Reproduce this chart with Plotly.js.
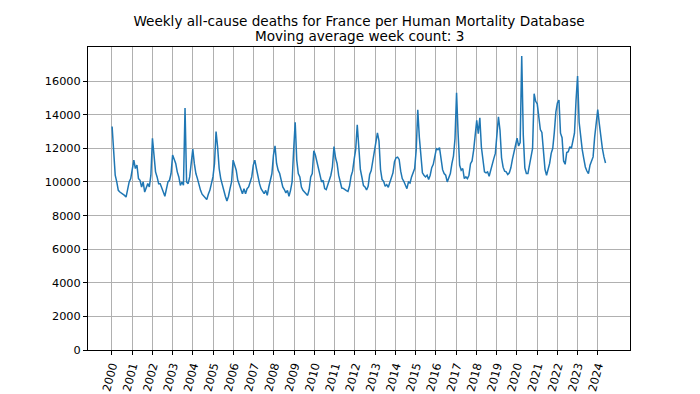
<!DOCTYPE html>
<html>
<head>
<meta charset="utf-8">
<script src="https://cdn.plot.ly/plotly-3.0.1.min.js"></script>
<style>html,body{margin:0;padding:0;background:#fff;}</style>
</head>
<body>
<div id="chart" style="width:700px;height:394px;"></div>
<script>
// Series: 3-week moving average of weekly deaths, every 4 weeks
const startDate = '2000-01-03';
const stepDays = 28;
const deaths = [
  13300, 11800, 10400, 10000, 9500, 9400, 9350, 9270, 9200, 9100, 9550, 10000, 10200,
  10900, 11300, 10800, 11000, 10200, 10100, 9700, 10000, 9400, 9600, 9900, 9700, 10400,
  12600, 11700, 10600, 10300, 9900, 9900, 9700, 9400, 9150, 9600, 10000, 10100, 10500,
  11600, 11400, 11100, 10600, 10300, 9800, 10000, 9800, 14400, 10000, 9900, 10300, 11000,
  11950, 11090, 10500, 10200, 9800, 9500, 9270, 9150, 9000, 8950, 9270, 9500, 9900,
  10300, 11100, 13000, 12080, 10800, 10200, 9800, 9500, 9150, 8870, 9150, 9600, 10000,
  11300, 11000, 10700, 10100, 9800, 9600, 9300, 9600, 9300, 9600, 9700, 10000, 10300,
  11000, 11300, 10800, 10300, 9900, 9600, 9400, 9300, 9500, 9200, 9700, 10100, 10500,
  11600, 12150, 11100, 10700, 10500, 10100, 9700, 9550, 9350, 9500, 9150, 9500, 10000,
  11900, 13550, 11300, 10500, 10300, 9700, 9500, 9400, 9300, 9200, 9550, 10300, 10500,
  11850, 11600, 11200, 10800, 10400, 10000, 10100, 9600, 9540, 9800, 10150, 10400, 10900,
  12100, 11440, 11100, 10400, 10000, 9640, 9620, 9540, 9480, 9440, 9740, 10340, 10640,
  11340, 11940, 13400, 12000, 10740, 10280, 9780, 9700, 9520, 9740, 10440, 10680, 11240,
  11880, 12600, 12920, 12440, 10740, 10140, 10040, 9740, 9840, 9680, 9940, 10240, 10540,
  11200, 11440, 11480, 11340, 10640, 10200, 10040, 9800, 9600, 10000, 9940, 10300, 10540,
  10800, 11900, 14300, 12670, 11290, 10540, 10400, 10300, 10400, 10140, 10400, 10850, 11050,
  11520, 11980, 11920, 12040, 11390, 10730, 10500, 10400, 10000, 10260, 10500, 11090, 11530,
  12570, 15300, 12870, 10990, 10700, 10800, 10200, 10300, 10200, 10400, 11090, 11250, 11880,
  12770, 13660, 12870, 13820, 12080, 11190, 10600, 10540, 10600, 10340, 10730, 11130, 11390,
  11700, 13000, 13880, 13080, 11440, 10880, 10640, 10600, 10440, 10540, 10840, 11340, 11800,
  12080, 12600, 12140, 12340, 17500, 12800, 10840, 10500, 10500, 11000, 11260, 12000, 15250,
  14800, 14650, 14000, 13120, 12950, 11850, 10750, 10400, 10700, 11100, 11700, 12000, 12950,
  14150, 14700, 14870, 12900, 12630, 11250, 11050, 11750, 11800, 12100, 12000, 12450, 12900,
  14850, 16300, 13560, 12670, 11920, 11390, 10890, 10650, 10500, 10990, 11250, 11490, 12670,
  13560, 14300, 13470, 12670, 11980, 11490, 11130
];
const yTickVals = [0, 2000, 4000, 6000, 8000, 10000, 12000, 14000, 16000];
const xTickYears = ['2000','2001','2002','2003','2004','2005','2006','2007','2008','2009','2010','2011','2012',
                    '2013','2014','2015','2016','2017','2018','2019','2020','2021','2022','2023','2024'];
const titleLine1 = 'Weekly all-cause deaths for France per Human Mortality Database';
const titleLine2 = 'Moving average week count: 3';

const t0 = Date.UTC(2000, 0, 3);
const dates = deaths.map((_, i) => new Date(t0 + i * stepDays * 86400000).toISOString().slice(0, 10));

const font = 'DejaVu Sans, sans-serif';
const trace = {
  x: dates, y: deaths, type: 'scatter', mode: 'lines',
  line: {color: '#1f77b4', width: 1.5}, hoverinfo: 'skip'
};
const layout = {
  width: 700, height: 394,
  margin: {l: 88, r: 70, t: 47, b: 44, pad: 0},
  paper_bgcolor: '#ffffff', plot_bgcolor: '#ffffff',
  showlegend: false,
  font: {family: font, color: '#000000', size: 11.3},
  title: {
    text: titleLine1,
    x: 0.5, xref: 'paper', xanchor: 'center',
    y: 1 - 21 / 394, yref: 'container', yanchor: 'middle',
    font: {family: font, size: 13.6, color: '#000000'}
  },
  annotations: [{
    text: titleLine2, showarrow: false,
    x: 0.5, xref: 'paper', xanchor: 'center',
    y: 1 + (47 - 36.5) / 303, yref: 'paper', yanchor: 'middle',
    font: {family: font, size: 13.6, color: '#000000'}
  }],
  xaxis: {
    type: 'date',
    range: ['1998-10-25', '2025-08-05'],
    tickmode: 'array',
    tickvals: xTickYears.map(y => y + '-01-01'),
    ticktext: xTickYears,
    tickangle: -75,
    ticks: 'outside', ticklen: 4, tickwidth: 1, tickcolor: '#000000',
    showgrid: true, gridcolor: '#b0b0b0', gridwidth: 1,
    showline: true, linecolor: '#000000', linewidth: 1, mirror: true,
    zeroline: false,
    tickfont: {family: font, size: 11.3, color: '#000000'}
  },
  yaxis: {
    range: [0, 18030],
    tickmode: 'array', tickvals: yTickVals, ticktext: yTickVals.map(String),
    ticks: 'outside', ticklen: 4, tickwidth: 1, tickcolor: '#000000',
    showgrid: true, gridcolor: '#b0b0b0', gridwidth: 1,
    showline: true, linecolor: '#000000', linewidth: 1, mirror: true,
    zeroline: false,
    tickfont: {family: font, size: 11.3, color: '#000000'}
  }
};
Plotly.newPlot('chart', [trace], layout, {staticPlot: true, displayModeBar: false});
</script>
</body>
</html>
